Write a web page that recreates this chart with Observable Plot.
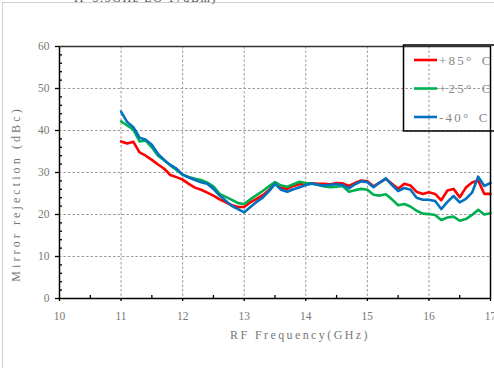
<!DOCTYPE html>
<html>
<head>
<meta charset="utf-8">
<script src="https://cdn.jsdelivr.net/npm/d3@7"></script>
<script src="https://cdn.jsdelivr.net/npm/@observablehq/plot@0.6"></script>
<style>
  html, body { margin: 0; padding: 0; background: #fff; }
  #wrap { position: relative; width: 494px; height: 368px; overflow: hidden; }
  #frame { position: absolute; left: 2px; top: 2px; width: 600px; height: 400px;
           border-left: 1px solid #d0d0d0; border-top: 1px solid #d0d0d0; }
  #title { position: absolute; left: 74px; top: -9px; font: 12px "Liberation Serif", serif;
           letter-spacing: 1.6px; color: #555; white-space: pre; }
  svg text { font-family: "Liberation Serif", serif; }
</style>
</head>
<body>
<div id="wrap">
  <div id="frame"></div>
  <div id="title">IF 3.5GHz LO 17dBm)</div>
</div>
<script>
// RF frequency sweep (GHz)
const freq = d3.range(61).map(i => Math.round((11 + i * 0.1) * 10) / 10);

// Mirror rejection (dBc) at each temperature
const t85 = [37.4, 36.9, 37.3, 34.8, 34.0, 33.0, 31.9, 30.9, 29.4, 28.9,
             28.3, 27.3, 26.4, 25.9, 25.2, 24.5, 23.6, 22.9, 22.2, 21.8,
             21.8, 22.9, 23.7, 24.6, 25.8, 27.4, 26.3, 26.1, 26.8, 27.2,
             27.4, 27.4, 27.3, 27.3, 27.2, 27.5, 27.4, 26.8, 27.5, 28.1,
             27.9, 26.7, 27.6, 28.5, 27.3, 26.1, 27.3, 26.9, 25.4, 24.9,
             25.3, 24.9, 23.4, 25.7, 26.1, 24.1, 26.4, 27.6, 28.1, 24.9,
             24.9];
const t25 = [42.2, 41.2, 40.2, 37.4, 37.6, 36.0, 34.0, 32.9, 31.7, 30.6,
             29.5, 28.9, 28.5, 28.2, 27.6, 26.7, 24.9, 24.2, 23.5, 22.7,
             22.5, 23.6, 24.6, 25.6, 26.7, 27.7, 26.9, 26.6, 27.2, 27.8,
             27.5, 27.3, 27.0, 26.7, 26.5, 26.6, 26.8, 25.4, 25.8, 26.1,
             25.9, 24.7, 24.5, 24.8, 23.6, 22.2, 22.5, 21.9, 20.9, 20.2,
             20.1, 19.9, 18.7, 19.3, 19.5, 18.5, 18.9, 19.9, 21.1, 20.0,
             20.3];
const tm40 = [44.5, 42.0, 40.8, 38.3, 37.8, 36.6, 34.4, 33.0, 31.8, 30.9,
              29.5, 28.8, 28.2, 27.7, 27.3, 26.1, 24.5, 23.3, 22.0, 21.3,
              20.5, 21.8, 23.0, 24.0, 25.5, 27.3, 25.9, 25.4, 26.0, 26.5,
              27.0, 27.4, 27.1, 26.9, 27.1, 27.2, 27.0, 26.2, 27.2, 27.9,
              27.7, 26.5, 27.6, 28.6, 27.0, 25.6, 26.3, 25.9, 24.0, 23.5,
              23.5, 23.2, 21.3, 23.0, 24.4, 22.9, 23.7, 25.2, 29.0, 26.8,
              27.5];

const seriesNames = ["+85° C", "+25° C", "-40° C"];
const seriesColors = ["#ff0000", "#00b050", "#0070c0"];
const seriesValues = [t85, t25, tm40];

// X and Y tick positions
const xMajor = d3.range(10, 17.01, 1);
const xMinor = d3.range(10.5, 17, 1);
const yMajor = d3.range(0, 60.01, 10);
const yMinor = d3.range(0, 60.01, 2).filter(v => v % 10 !== 0);

const rows = seriesNames.flatMap((name, s) =>
  freq.map((f, i) => ({series: name, f, v: seriesValues[s][i]})));

const gridStyle = {stroke: "#9a9a9a", strokeDasharray: "2.5,2", strokeWidth: 1, strokeOpacity: 1};
const tickFont = {fill: "#777", fontSize: 11.5};

const chart = Plot.plot({
  width: 494,
  height: 368,
  marginLeft: 59,
  marginRight: 4,
  marginTop: 46,
  marginBottom: 70,
  style: {background: "transparent", overflow: "visible"},
  x: {domain: [10, 17]},
  y: {domain: [0, 60]},
  color: {domain: seriesNames, range: seriesColors},
  marks: [
    // dashed grid
    Plot.ruleX(xMajor.filter(v => v > 10 && v < 17), {x: d => d, ...gridStyle}),
    Plot.ruleY(yMajor.filter(v => v > 0 && v < 60), {y: d => d, ...gridStyle}),
    // curves
    Plot.line(rows, {x: "f", y: "v", z: "series", stroke: "series", strokeWidth: 2.6,
                     strokeLinejoin: "round", curve: "linear"}),
    // plot border
    Plot.ruleX([10], {stroke: "#000", strokeWidth: 1.5}),
    Plot.ruleX([17], {stroke: "#000", strokeWidth: 1.5}),
    Plot.ruleY([0], {stroke: "#000", strokeWidth: 1.5}),
    Plot.ruleY([60], {stroke: "#333", strokeWidth: 1.5}),
    // axes
    Plot.axisX(xMajor, {tickSize: 3, tickPadding: 10, stroke: "#000", strokeWidth: 1.3,
                        tickFormat: d => String(d), ...tickFont, label: null}),
    Plot.axisX(xMinor, {tickSize: -3, stroke: "#000", strokeWidth: 1.3, text: null, label: null}),
    Plot.axisY(yMajor, {tickSize: 4, tickPadding: 6, stroke: "#000", strokeWidth: 1.3,
                        tickFormat: d => String(d), ...tickFont, label: null}),
    Plot.axisY(yMinor, {tickSize: -3, stroke: "#000", strokeWidth: 1.3, text: null, label: null})
  ]
});

chart.style.position = "absolute";
chart.style.left = "0px";
chart.style.top = "0px";
document.getElementById("wrap").appendChild(chart);

const svg = d3.select(chart);

// axis titles
svg.append("text").attr("x", 300).attr("y", 339).attr("text-anchor", "middle")
  .attr("fill", "#777").style("font-size", "12px").style("letter-spacing", "2.4px")
  .text("RF Frequency(GHz)");
svg.append("text").attr("transform", "translate(20,194) rotate(-90)").attr("text-anchor", "middle")
  .attr("fill", "#777").style("font-size", "12px").style("letter-spacing", "3.1px")
  .text("Mirror rejection (dBc)");

// legend box inside the top-right corner of the plot
const lg = svg.append("g").attr("class", "legend").attr("text-anchor", "start");
lg.append("rect").attr("x", 403.5).attr("y", 45).attr("width", 120).attr("height", 86)
  .attr("fill", "none").attr("stroke", "#000").attr("stroke-width", 1.5);
seriesNames.forEach((name, i) => {
  const yy = 60 + i * 28.5;
  lg.append("line").attr("x1", 414).attr("x2", 437).attr("y1", yy).attr("y2", yy)
    .attr("stroke", seriesColors[i]).attr("stroke-width", 2.6);
  lg.append("text").attr("x", 439).attr("y", yy + 4.5).attr("text-anchor", "start").text(name)
    .attr("fill", "#888").style("font-size", "13px").style("letter-spacing", "2.2px")
    .style("word-spacing", "3px");
});
</script>
</body>
</html>
